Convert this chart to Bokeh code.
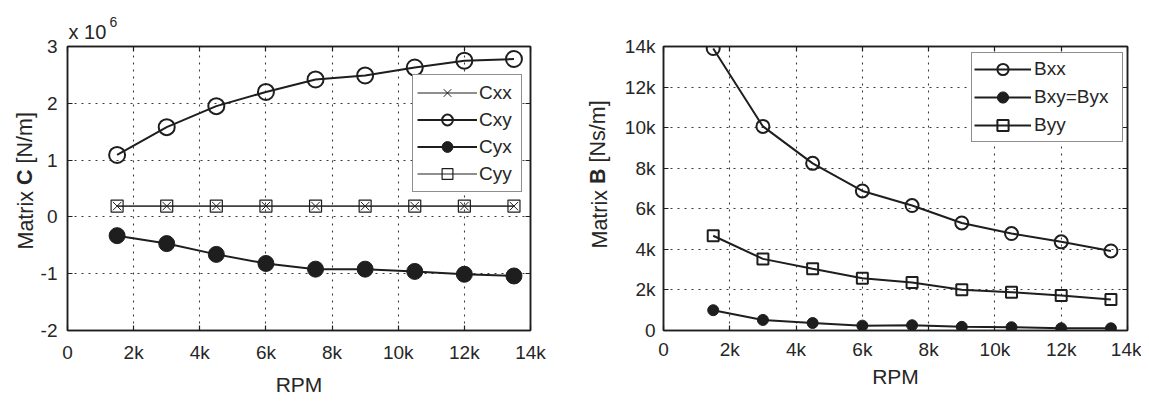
from bokeh.plotting import figure
from bokeh.models import (Range1d, FixedTicker, LinearAxis, Legend,
                          LegendItem, Title)
from bokeh.layouts import row
from bokeh.embed import file_html
from bokeh.resources import INLINE

# ---------------- data ----------------
rpm = [1500, 3000, 4500, 6000, 7500, 9000, 10500, 12000, 13500]

cxx = [0.19e6, 0.19e6, 0.19e6, 0.19e6, 0.19e6, 0.19e6, 0.19e6, 0.19e6, 0.19e6]
cxy = [1.09e6, 1.58e6, 1.95e6, 2.20e6, 2.42e6, 2.49e6, 2.63e6, 2.75e6, 2.78e6]
cyx = [-0.33e6, -0.47e6, -0.66e6, -0.82e6, -0.92e6, -0.92e6, -0.96e6, -1.01e6, -1.04e6]
cyy = [0.19e6, 0.19e6, 0.19e6, 0.19e6, 0.19e6, 0.19e6, 0.19e6, 0.19e6, 0.19e6]

bxx = [13900, 10060, 8240, 6880, 6160, 5300, 4780, 4370, 3920]
bxy = [1000, 520, 370, 240, 260, 180, 160, 110, 110]
byy = [4670, 3530, 3040, 2580, 2370, 2010, 1890, 1720, 1530]

x_ticks = [0, 2000, 4000, 6000, 8000, 10000, 12000, 14000]
x_tick_labels = ["0", "2k", "4k", "6k", "8k", "10k", "12k", "14k"]
c_ticks = [-2e6, -1e6, 0, 1e6, 2e6, 3e6]
c_tick_labels = ["-2", "-1", "0", "1", "2", "3"]
b_ticks = [0, 2000, 4000, 6000, 8000, 10000, 12000, 14000]
b_tick_labels = ["0", "2k", "4k", "6k", "8k", "10k", "12k", "14k"]

FONT = "Liberation Sans"
INK = "#1e1e1e"
TXT = "#262626"
H = 398
YFS = "21.5px"
YFH = 24.5  # measured text box height of the y label font


def style_axis(ax, ticks, labels, show_labels=True, standoff=9):
    ax.ticker = FixedTicker(ticks=ticks)
    ax.major_label_overrides = {t: l for t, l in zip(ticks, labels)}
    ax.axis_line_color = INK
    ax.axis_line_width = 1.5
    ax.major_tick_line_color = INK
    ax.major_tick_line_width = 1.2
    ax.major_tick_in = 5
    ax.major_tick_out = 0
    ax.minor_tick_line_color = None
    ax.major_label_text_font = FONT
    ax.major_label_text_color = TXT
    ax.major_label_standoff = standoff
    if show_labels:
        ax.major_label_text_font_size = "19px"
    else:
        ax.major_label_text_font_size = "0px"
        ax.major_label_text_alpha = 0


def make_fig(width, ml, mr, mt, mb, yr, yticks, ylabels, ystandoff,
             xstandoff, lstandoff):
    p = figure(width=width, height=H,
               x_range=Range1d(0, 14000), y_range=Range1d(*yr),
               output_backend="svg", toolbar_location=None,
               title_location=None,
               min_border_left=ml, min_border_right=mr,
               min_border_top=mt, min_border_bottom=mb)
    p.background_fill_color = "white"
    p.border_fill_color = "white"
    p.outline_line_color = INK
    p.outline_line_width = 1.5
    style_axis(p.xaxis[0], x_ticks, x_tick_labels, True, xstandoff)
    style_axis(p.yaxis[0], yticks, ylabels, True, ystandoff)
    xa = p.xaxis[0]
    xa.axis_label = "RPM"
    xa.axis_label_text_font = FONT
    xa.axis_label_text_font_size = "21px"
    xa.axis_label_text_font_style = "normal"
    xa.axis_label_text_color = TXT
    xa.axis_label_standoff = lstandoff
    top = LinearAxis()
    style_axis(top, x_ticks, x_tick_labels, False, 0)
    p.add_layout(top, "above")
    right = LinearAxis()
    style_axis(right, yticks, ylabels, False, 0)
    p.add_layout(right, "right")
    for g in (p.xgrid[0], p.ygrid[0]):
        g.grid_line_color = "#3a3a3a"
        g.grid_line_dash = "2 5"
        g.grid_line_width = 1.1
    p.xgrid[0].ticker = FixedTicker(ticks=x_ticks)
    p.ygrid[0].ticker = FixedTicker(ticks=yticks)
    return p


def y_label(p, start, s_first, bold):
    # "Matrix <bold> [unit]" built from three side titles on one baseline
    s_next = int(round(-2 * YFH - s_first))
    parts = [("Matrix", "normal", 0.0, s_first),
             (bold[0], "bold", 64.5, s_next),
             (bold[1], "normal", 86.0, s_next)]
    for txt, style, dy, so in parts:
        p.add_layout(Title(text=txt, align="left", offset=start + dy,
                           standoff=so, text_font=FONT, text_font_size=YFS,
                           text_font_style=style, text_color=TXT), "left")


# ---------------- left : Matrix C ----------------
p1 = make_fig(570, 67, 40, 44, H - 330, (-2e6, 3e6), c_ticks, c_tick_labels,
              10, 11, 7)

l_cxx = p1.line(rpm, cxx, line_color=INK, line_width=1)
m_cxx = p1.scatter(rpm, cxx, marker="x", size=12, line_color=INK, line_width=1)
l_cyy = p1.line(rpm, cyy, line_color=INK, line_width=1)
m_cyy = p1.scatter(rpm, cyy, marker="square", size=12, line_color=INK,
                   line_width=1.2, fill_color=None)
l_cxy = p1.line(rpm, cxy, line_color=INK, line_width=2)
m_cxy = p1.scatter(rpm, cxy, marker="circle", size=16, line_color=INK,
                   line_width=2, fill_color=None)
l_cyx = p1.line(rpm, cyx, line_color=INK, line_width=2)
m_cyx = p1.scatter(rpm, cyx, marker="circle", size=16, line_color=INK,
                   line_width=1, fill_color=INK)

leg1 = Legend(items=[
    LegendItem(label="Cxx", renderers=[l_cxx, m_cxx]),
    LegendItem(label="Cxy", renderers=[l_cxy, m_cxy]),
    LegendItem(label="Cyx", renderers=[l_cyx, m_cyx]),
    LegendItem(label="Cyy", renderers=[l_cyy, m_cyy]),
], location=(345, 138))
leg1.label_text_font = FONT
leg1.label_text_font_size = "19px"
leg1.label_text_color = TXT
leg1.glyph_width = 60
leg1.glyph_height = 27
leg1.label_height = 20
leg1.label_width = 38
leg1.label_standoff = 2
leg1.spacing = 0
leg1.padding = 4
leg1.margin = 0
leg1.border_line_color = INK
leg1.border_line_width = 1.5
leg1.background_fill_color = "white"
leg1.background_fill_alpha = 1
p1.add_layout(leg1, "center")

p1.add_layout(Title(text="x 10", align="left", offset=1, standoff=8,
                    text_font=FONT, text_font_size="20px",
                    text_font_style="normal", text_color=TXT), "above")
p1.add_layout(Title(text="6", align="left", offset=42, standoff=-25,
                    text_font=FONT, text_font_size="14px",
                    text_font_style="normal", text_color=TXT), "above")

y_label(p1, 81, -1, ("C", "[N/m]"))

# ---------------- right : Matrix B ----------------
p2 = make_fig(571, 93, 14, 46, H - 333, (0, 14000), b_ticks, b_tick_labels,
              8, 8, 2)

l_bxx = p2.line(rpm, bxx, line_color=INK, line_width=2)
m_bxx = p2.scatter(rpm, bxx, marker="circle", size=13, line_color=INK,
                   line_width=2, fill_color=None)
l_bxy = p2.line(rpm, bxy, line_color=INK, line_width=2)
m_bxy = p2.scatter(rpm, bxy, marker="circle", size=11, line_color=INK,
                   line_width=1, fill_color=INK)
l_byy = p2.line(rpm, byy, line_color=INK, line_width=2)
m_byy = p2.scatter(rpm, byy, marker="square", size=11, line_color=INK,
                   line_width=2, fill_color=None)

leg2 = Legend(items=[
    LegendItem(label="Bxx", renderers=[l_bxx, m_bxx]),
    LegendItem(label="Bxy=Byx", renderers=[l_bxy, m_bxy]),
    LegendItem(label="Byy", renderers=[l_byy, m_byy]),
], location=(308, 188))
leg2.label_text_font = FONT
leg2.label_text_font_size = "19px"
leg2.label_text_color = TXT
leg2.glyph_width = 57
leg2.glyph_height = 28
leg2.label_height = 20
leg2.label_width = 86
leg2.label_standoff = 3
leg2.spacing = 0
leg2.padding = 2
leg2.margin = 0
leg2.border_line_color = INK
leg2.border_line_width = 1.5
leg2.background_fill_color = "white"
leg2.background_fill_alpha = 1
p2.add_layout(leg2, "center")

y_label(p2, 82, 20, ("B", "[Ns/m]"))

layout = row(p1, p2)
open("out.html", "w").write(file_html(layout, INLINE))
